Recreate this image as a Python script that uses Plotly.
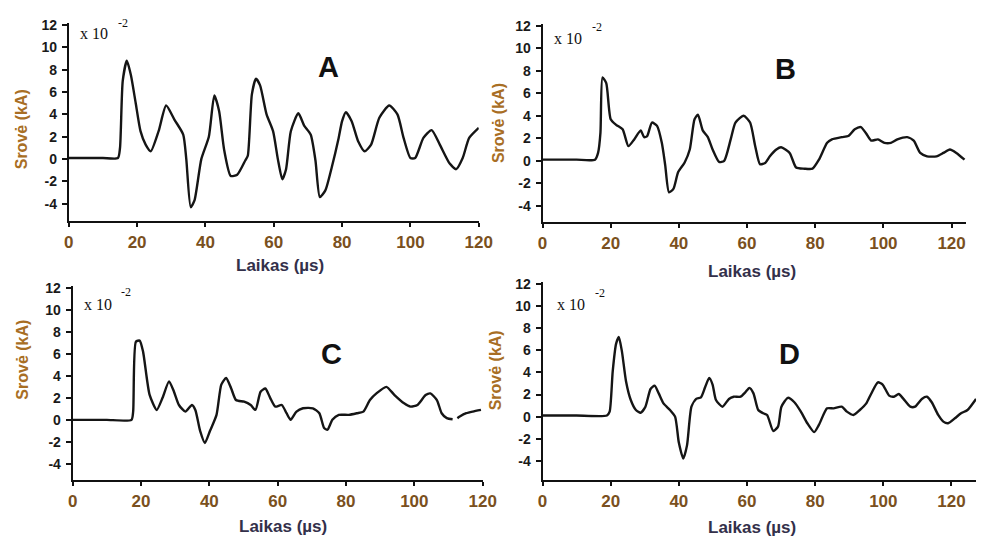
import plotly.graph_objects as go

# ---------------- data (values in units of 10^-2 kA) ----------------
a_t = [0, 5, 10, 14.4, 15.0, 15.8, 17.0, 18.2, 19.6, 21.0, 22.5, 24.0, 26.3, 28.5, 31.0, 33.5, 34.4, 35.7,
       36.8, 38.8, 41.0, 42.6, 44.0, 45.5, 47.4, 49.3, 51.7, 52.4, 53.6, 54.8, 56.0, 57.9, 59.8, 61.2,
       62.5, 63.6, 65.0, 67.2, 68.9, 70.8, 72.2, 73.5, 75.1, 77.0, 79.0, 80.0, 81.1, 82.8, 84.7, 86.6,
       88.5, 90.9, 93.8, 96.2, 98.0, 100.0, 101.4, 103.8, 106.2, 108.6, 111.5, 113.4, 115.3, 117.2, 120.0]
a_i = [0.1, 0.1, 0.1, 0.1, 1.0, 7.0, 8.8, 7.5, 5.0, 2.5, 1.3, 0.7, 2.5, 4.8, 3.5, 2.2, 0.0, -4.3,
       -3.7, 0.0, 2.0, 5.7, 4.3, 0.8, -1.5, -1.4, -0.1, 0.3, 5.8, 7.2, 6.6, 4.0, 2.5, 0.0,
       -1.8, -0.9, 2.5, 4.1, 3.0, 2.2, -0.1, -3.4, -2.8, -0.7, 1.9, 3.4, 4.2, 3.4, 1.6, 0.7,
       1.3, 3.7, 4.8, 4.0, 1.9, 0.1, 0.1, 1.9, 2.6, 1.3, -0.4, -0.9, 0.1, 1.9, 2.8]

b_t = [0, 5, 10, 15.4, 16.3, 17.0, 17.6, 18.7, 20.0, 21.6, 23.5, 25.2, 26.9, 28.8, 29.8, 30.7, 32.1,
       33.6, 35.0, 36.0, 37.1, 38.4, 39.8, 41.7, 43.2, 44.6, 45.6, 47.0, 48.5, 49.9, 51.8, 53.3, 55.2,
       56.6, 59.0, 60.9, 62.4, 63.8, 65.3, 66.7, 68.6, 70.0, 72.5, 74.4, 76.8, 79.2, 81.1, 83.5, 84.9,
       87.8, 89.7, 91.6, 93.4, 95.0, 96.4, 98.4, 100.3, 102.2, 104.1, 107.0, 108.9, 110.8, 112.8, 115.6,
       117.6, 119.5, 121.4, 123.8]
b_i = [0.1, 0.1, 0.1, 0.1, 0.7, 2.5, 7.4, 6.9, 3.7, 3.2, 2.8, 1.3, 1.9, 2.7, 2.1, 2.2, 3.4,
       3.1, 1.6, -0.4, -2.8, -2.5, -1.0, -0.15, 1.0, 3.7, 4.1, 2.7, 2.1, 1.0, -0.1, 0.0, 1.9,
       3.4, 4.0, 3.4, 1.3, -0.3, -0.2, 0.4, 1.0, 1.2, 0.7, -0.6, -0.7, -0.7, 0.1, 1.6, 1.9,
       2.1, 2.2, 2.8, 3.0, 2.4, 1.8, 1.9, 1.6, 1.6, 1.9, 2.1, 1.8, 0.7, 0.4, 0.4,
       0.7, 1.0, 0.7, 0.1]

c_t = [0, 5, 10, 17.2, 17.7, 18.5, 19.6, 20.6, 22.5, 24.6, 26.3, 28.2, 29.6, 31.1, 33.0, 34.9, 35.9,
       37.3, 38.7, 40.2, 42.1, 43.5, 44.9, 46.4, 47.8, 50.2, 52.1, 53.5, 55.0, 56.4, 57.8, 59.3, 61.2,
       62.6, 63.8, 65.5, 67.4, 70.3, 72.2, 73.6, 74.6, 76.0, 77.9, 80.8, 83.2, 85.1, 87.0, 88.9, 91.8,
       94.2, 97.0, 98.9, 100.9, 103.3, 104.7, 106.6, 108.0, 109.5, 111.2, 111.9, 112.6, 113.3, 115.2,
       117.1, 119.5]
c_i = [0.0, 0.0, 0.0, 0.0, 0.75, 7.1, 7.2, 6.2, 2.3, 0.9, 2.0, 3.5, 2.6, 1.35, 0.75, 1.35, 0.9,
       -1.0, -2.1, -1.0, 0.45, 3.2, 3.8, 2.85, 1.8, 1.65, 1.35, 0.9, 2.55, 2.85, 2.0, 1.2, 1.35,
       0.6, 0.0, 0.75, 1.05, 1.05, 0.6, -0.75, -0.9, 0.0, 0.45, 0.45, 0.6, 0.75, 1.8, 2.4, 3.0,
       2.25, 1.5, 1.2, 1.35, 2.25, 2.4, 1.8, 0.6, 0.15, 0.05, None, 0.15, 0.3, 0.6,
       0.75, 0.9]

d_t = [0, 5, 10, 18.9, 19.7, 20.6, 21.6, 22.4, 23.3, 24.5, 25.9, 27.4, 28.8, 30.2, 31.7, 32.9, 34.1,
       35.5, 37.4, 38.9, 40.0, 41.3, 42.4, 43.7, 45.1, 46.5, 47.7, 48.9, 49.9, 50.9, 52.8, 54.7, 56.1,
       58.1, 59.5, 60.7, 61.9, 63.3, 64.8, 65.9, 67.7, 69.1, 70.1, 72.0, 73.9, 75.8, 77.7, 79.7, 81.1,
       83.5, 85.4, 87.8, 89.3, 91.2, 93.1, 95.0, 96.4, 98.4, 99.8, 101.7, 103.1, 104.5, 105.9, 107.9,
       109.3, 111.3, 112.8, 114.2, 116.1, 117.6, 119.0, 121.0, 122.8, 124.7, 127.2]
d_i = [0.1, 0.1, 0.1, 0.1, 0.45, 4.1, 6.6, 7.2, 5.9, 3.2, 1.5, 0.6, 0.35, 0.9, 2.5, 2.8, 2.1,
       1.2, 0.6, 0.0, -2.35, -3.8, -2.6, 0.9, 1.6, 1.75, 2.65, 3.5, 2.9, 1.5, 0.9, 1.6, 1.8,
       1.8, 2.2, 2.6, 2.1, 0.6, 0.3, 0.15, -1.3, -0.9, 0.9, 1.7, 1.3, 0.45, -0.6, -1.4, -0.75,
       0.75, 0.75, 0.9, 0.45, 0.15, 0.6, 1.2, 2.05, 3.1, 2.9, 1.9, 1.8, 2.05, 1.6, 0.9,
       0.9, 1.6, 1.8, 1.3, 0.15, -0.45, -0.6, -0.15, 0.3, 0.6, 1.6]

panel_labels = ["A", "B", "C", "D"]
x_ticks = [0, 20, 40, 60, 80, 100, 120]
y_ticks = [-4, -2, 0, 2, 4, 6, 8, 10, 12]
x_title = "Laikas (µs)"
y_title = "Srovė (kA)"
note_base = "x 10"
note_exp = "-2"

series = [(a_t, a_i), (b_t, b_i), (c_t, c_i), (d_t, d_i)]

W, H = 992, 539

panels = [
    dict(xl=65, xr=483, xmax=120.0, yt=17.0, yb=217.0, ymin=-5.5, ymax=12.2),
    dict(xl=548, xr=980, xmax=124.3, yt=17.7, yb=218.0, ymin=-5.4, ymax=12.2),
    dict(xl=69, xr=487, xmax=120.0, yt=282.8, yb=479.0, ymin=-5.44, ymax=12.2),
    dict(xl=548, xr=990, xmax=127.2, yt=278.8, yb=479.0, ymin=-5.7, ymax=12.2),
]
letter_pos = [(330, 62), (796, 64), (333, 352), (800, 352)]
note_pos = [(74, 28), (558, 33), (78, 302), (561, 302)]
exp_pos = [(113, 17), (596, 21), (116, 289), (599, 290)]
xtitle_pos = [(280, 262), (762, 268), (283, 526), (762, 527)]
ytitle_pos = [(17, 125), (503, 118), (17, 358), (500, 368)]

TICK_COLOR = "#7a5020"
XT_COLOR = "#33304a"
YT_COLOR = "#a86e24"

fig = go.Figure()
layout = dict(
    width=W, height=H, margin=dict(l=0, r=0, t=0, b=0),
    paper_bgcolor="white", plot_bgcolor="white", showlegend=False,
    annotations=[],
)


def ann(x, y, text, font, anchor="center", angle=0):
    return dict(x=x / W, y=1 - y / H, xref="paper", yref="paper", text=text, showarrow=False,
                font=font, xanchor=anchor, yanchor="middle", textangle=angle)


for k, ((t, i), p) in enumerate(zip(series, panels)):
    n = "" if k == 0 else str(k + 1)
    fig.add_trace(go.Scatter(
        x=t, y=i, mode="lines", xaxis="x" + n, yaxis="y" + n,
        line=dict(color="#151515", width=2.4, shape="spline", smoothing=0.6),
        connectgaps=False, hoverinfo="skip",
    ))
    layout["xaxis" + n] = dict(
        domain=[p["xl"] / W, p["xr"] / W], range=[0, p["xmax"]], anchor="y" + n,
        showline=True, linecolor="#111", linewidth=2, showgrid=False, zeroline=False,
        tickmode="array", tickvals=x_ticks, ticktext=["<b>%d</b>" % v for v in x_ticks],
        ticks="outside", ticklen=4, tickwidth=2, tickcolor="#111",
        tickfont=dict(family="Liberation Sans", size=17, color=TICK_COLOR),
        ticklabelstandoff=1,
    )
    layout["yaxis" + n] = dict(
        domain=[1 - p["yb"] / H, 1 - p["yt"] / H], range=[p["ymin"], p["ymax"]], anchor="x" + n,
        showline=True, linecolor="#111", linewidth=2, showgrid=False, zeroline=False,
        tickmode="array", tickvals=y_ticks, ticktext=["<b>%d</b>" % v for v in y_ticks],
        ticks="outside", ticklen=5, tickwidth=2, tickcolor="#111",
        tickfont=dict(family="Liberation Sans", size=14, color="#1a1a1a"),
        ticklabelstandoff=2,
    )
    lx, ly = letter_pos[k]
    layout["annotations"].append(ann(lx, ly, "<b>" + panel_labels[k] + "</b>",
                                     dict(family="Liberation Sans", size=29, color="#111")))
    nx, ny = note_pos[k]
    layout["annotations"].append(ann(nx, ny, note_base,
                                     dict(family="Liberation Serif", size=16, color="#111"), "left"))
    ex, ey = exp_pos[k]
    layout["annotations"].append(ann(ex, ey, note_exp,
                                     dict(family="Liberation Serif", size=12, color="#111"), "left"))
    tx, ty = xtitle_pos[k]
    layout["annotations"].append(ann(tx, ty, "<b>" + x_title + "</b>",
                                     dict(family="Liberation Sans", size=17, color=XT_COLOR)))
    sx, sy = ytitle_pos[k]
    layout["annotations"].append(ann(sx, sy, "<b>" + y_title + "</b>",
                                     dict(family="Liberation Sans", size=16, color=YT_COLOR), angle=-90))

fig.update_layout(**layout)
fig.write_html("out.html")
